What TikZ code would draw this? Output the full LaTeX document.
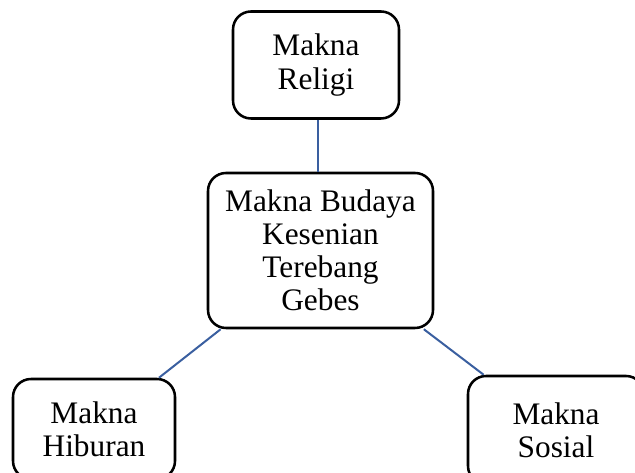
\documentclass[tikz,border=0pt]{standalone}
\usepackage{fontspec}
\setmainfont{Liberation Serif}
\definecolor{linkblue}{RGB}{58,95,160}
\tikzset{
  box/.style={draw=black, line width=1.9pt, rounded corners=13.5pt, align=center,
    font=\fontsize{23.5pt}{24.8pt}\selectfont, inner sep=0pt},
  link/.style={draw=linkblue, line width=1.5pt}
}
\begin{document}
\begin{tikzpicture}[x=0.75pt,y=-0.75pt]
\useasboundingbox (0,0) rectangle (635,473);
\node[box, minimum width=166*0.75pt, minimum height=107*0.75pt] (top) at (316,65) {Makna\\Religi};
\node[box, minimum width=225*0.75pt, minimum height=155*0.75pt] (center) at (320.5,250.5) {Makna Budaya\\Kesenian\\Terebang\\Gebes};
\node[box, minimum width=162*0.75pt, minimum height=100*0.75pt] (bl) at (94,429) {Makna\\Hiburan};
\node[box, minimum width=176*0.75pt, minimum height=108*0.75pt] (br) at (556,430) {Makna\\Sosial};
\draw[link] ([xshift=1.5pt]top.south) -- ([xshift=1.5pt]top.south |- center.north);
\draw[link] (center) -- (bl);
\draw[link] (center) -- (br);
\end{tikzpicture}
\end{document}
